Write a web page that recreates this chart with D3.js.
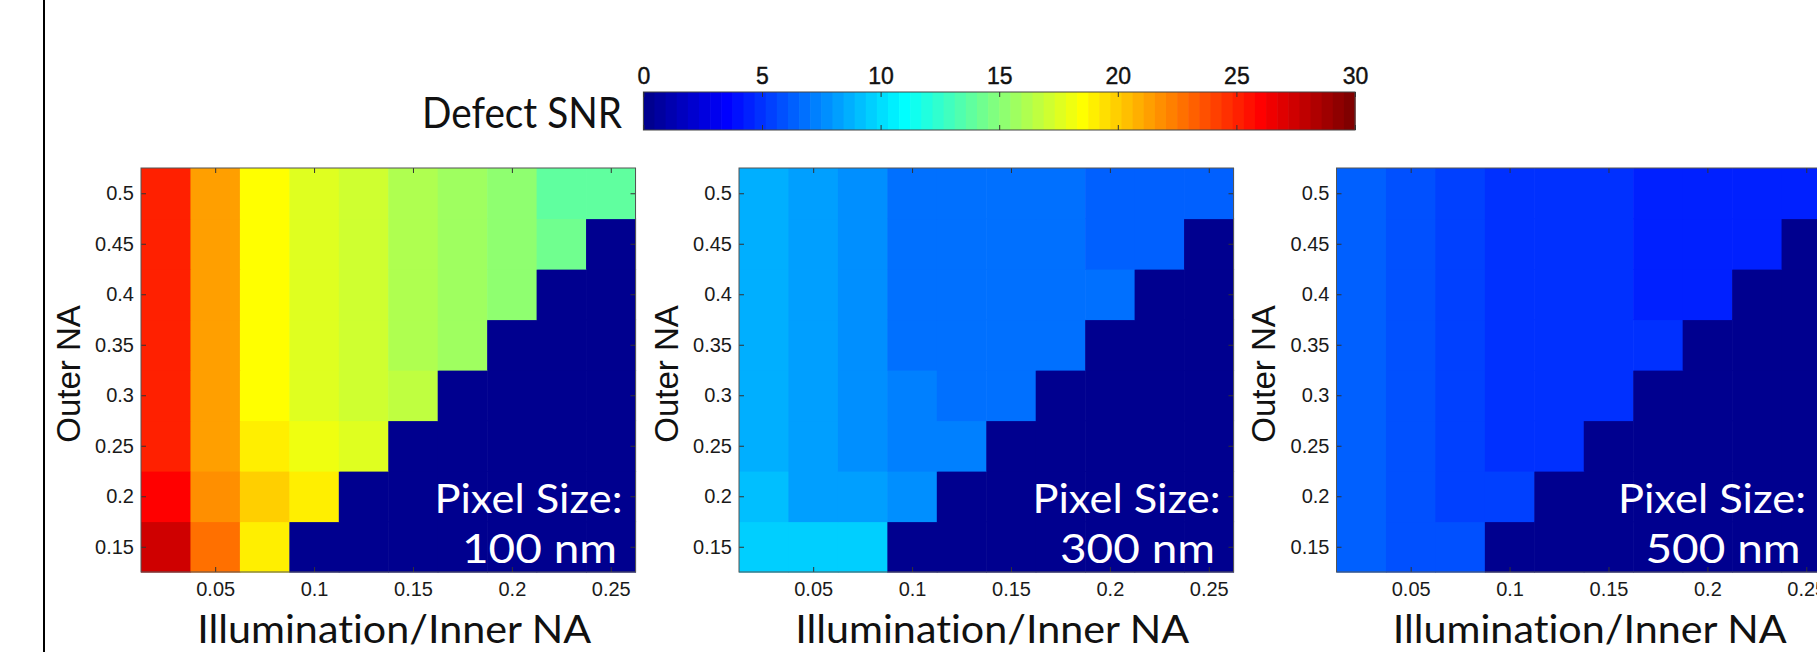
<!DOCTYPE html>
<html><head><meta charset="utf-8">
<script src="https://cdn.jsdelivr.net/npm/d3@7"></script>
<style>body{margin:0;background:#fff;overflow:hidden} text{font-variant-ligatures:none;font-feature-settings:"liga" 0,"clig" 0}</style>
</head><body>
<svg id="c" width="1817" height="652"></svg>
<script>
// ---------- data ----------
const outerNA = [0.15, 0.2, 0.25, 0.3, 0.35, 0.4, 0.45, 0.5];
const innerNA = [0.025, 0.05, 0.075, 0.1, 0.125, 0.15, 0.175, 0.2, 0.225, 0.25];
const xTickVals = [0.05, 0.1, 0.15, 0.2, 0.25];
const yTickVals = [0.15, 0.2, 0.25, 0.3, 0.35, 0.4, 0.45, 0.5];
const cbTickVals = [0, 5, 10, 15, 20, 25, 30];
const pixelLabels = ["100 nm", "300 nm", "500 nm"];
// rows follow outerNA (0.15 -> 0.5), columns follow innerNA; 0 = masked (inner too large)
const snr100 = [
  [27.3, 22.8, 18.9, 0, 0, 0, 0, 0, 0, 0],
  [25.8, 21.9, 19.7, 18.9, 0, 0, 0, 0, 0, 0],
  [25.2, 21.5, 18.9, 18.1, 17.4, 0, 0, 0, 0, 0],
  [25.0, 21.5, 18.4, 17.4, 16.9, 16.5, 0, 0, 0, 0],
  [25.0, 21.1, 18.4, 17.4, 16.9, 16.2, 15.7, 0, 0, 0],
  [25.0, 21.1, 18.4, 17.4, 16.9, 16.2, 15.7, 15.3, 0, 0],
  [25.0, 21.1, 18.4, 17.4, 16.9, 16.2, 15.7, 15.3, 14.2, 0],
  [25.0, 21.1, 18.4, 17.4, 16.9, 16.2, 15.7, 15.3, 13.8, 13.6]
];
const snr300 = [
  [9.7, 9.7, 9.7, 0, 0, 0, 0, 0, 0, 0],
  [9.0, 8.4, 8.0, 7.7, 0, 0, 0, 0, 0, 0],
  [8.8, 8.2, 7.7, 7.3, 7.3, 0, 0, 0, 0, 0],
  [8.8, 8.2, 7.7, 7.3, 7.0, 7.0, 0, 0, 0, 0],
  [8.8, 8.2, 7.7, 6.8, 6.8, 6.8, 6.8, 0, 0, 0],
  [8.8, 8.2, 7.7, 6.8, 6.8, 6.8, 6.8, 6.8, 0, 0],
  [8.8, 8.2, 7.7, 6.8, 6.8, 6.8, 6.8, 6.5, 6.5, 0],
  [8.8, 8.2, 7.7, 6.8, 6.8, 6.8, 6.8, 6.5, 6.5, 6.5]
];
const snr500 = [
  [6.1, 6.0, 5.9, 0, 0, 0, 0, 0, 0, 0],
  [6.1, 5.9, 5.4, 5.4, 0, 0, 0, 0, 0, 0],
  [6.1, 5.9, 5.4, 4.7, 5.1, 0, 0, 0, 0, 0],
  [6.1, 5.9, 5.4, 4.7, 4.7, 4.7, 0, 0, 0, 0],
  [6.1, 5.9, 5.4, 4.7, 4.7, 4.7, 5.0, 0, 0, 0],
  [6.1, 5.9, 5.4, 4.7, 4.7, 4.7, 4.3, 4.5, 0, 0],
  [6.1, 5.9, 5.4, 4.7, 4.7, 4.7, 4.3, 4.3, 4.3, 0],
  [6.1, 5.9, 5.4, 4.7, 4.7, 4.7, 4.3, 4.3, 4.3, 4.3]
];
const panelData = [snr100, snr300, snr500];

// ---------- MATLAB jet(64) colormap ----------
function jet(n) {
  const m = Math.ceil(n / 4);
  const u = [];
  for (let i = 1; i <= m; i++) u.push(i / m);
  for (let i = 1; i < m; i++) u.push(1);
  for (let i = m; i >= 1; i--) u.push(i / m);
  const gOff = Math.ceil(m / 2) - (n % 4 === 1 ? 1 : 0);
  const J = d3.range(n).map(() => [0, 0, 0]);
  u.forEach((val, k) => {
    const g = gOff + k + 1, r = g + m, b = g - m;
    if (r <= n) J[r - 1][0] = val;
    if (g <= n) J[g - 1][1] = val;
    if (b >= 1) J[b - 1][2] = val;
  });
  return J.map(c => d3.rgb(c[0] * 255, c[1] * 255, c[2] * 255).toString());
}
const cmap = jet(64);
const color = d3.scaleQuantize().domain([0, 30]).range(cmap);

// ---------- layout ----------
const svg = d3.select("#c");
const panelLeft = [141, 739, 1336.5];
const annShift = [0, 0, -12];
const plotTop = 168, W = 494.5, H = 404;
const tickFont = "'Liberation Sans', Arial, sans-serif";
const labFont = "Lato, 'Open Sans', sans-serif";

// left black rule
svg.append("line").attr("x1", 44).attr("x2", 44).attr("y1", 0).attr("y2", 652)
  .attr("stroke", "#000").attr("stroke-width", 2);

const x = d3.scaleLinear().domain([0.0125, 0.2625]).range([0, W]);
const y = d3.scaleLinear().domain([0.125, 0.525]).range([H, 0]);

panelData.forEach((data, p) => {
  const g = svg.append("g").attr("transform", `translate(${panelLeft[p]},${plotTop})`);
  const cells = [];
  data.forEach((row, ri) => row.forEach((v, ci) => cells.push({o: outerNA[ri], i: innerNA[ci], v})));
  g.selectAll("rect.cell").data(cells).join("rect").attr("class", "cell")
    .attr("x", d => x(d.i - 0.0125))
    .attr("y", d => y(d.o + 0.025))
    .attr("width", d => x(d.i + 0.0125) - x(d.i - 0.0125) + 0.6)
    .attr("height", d => y(d.o - 0.025) - y(d.o + 0.025) + 0.6)
    .attr("fill", d => color(d.v));

  // axes (inward ticks)
  const ax = g.append("g").attr("transform", `translate(0,${H})`)
    .call(d3.axisBottom(x).tickValues(xTickVals).tickSizeInner(-5).tickSizeOuter(0).tickPadding(10).tickFormat(d => String(d)));
  const axT = g.append("g").call(d3.axisTop(x).tickValues(xTickVals).tickSizeInner(-5).tickSizeOuter(0).tickFormat(""));
  const ay = g.append("g")
    .call(d3.axisLeft(y).tickValues(yTickVals).tickSizeInner(-5).tickSizeOuter(0).tickPadding(7).tickFormat(d => String(d)));
  const ayR = g.append("g").attr("transform", `translate(${W},0)`)
    .call(d3.axisRight(y).tickValues(yTickVals).tickSizeInner(-5).tickSizeOuter(0).tickFormat(""));
  [ax, axT, ay, ayR].forEach(a => {
    a.select(".domain").remove();
    a.selectAll("line").attr("stroke", "#333");
    a.selectAll("text").attr("font-family", tickFont).attr("font-size", 20).attr("fill", "#1a1a1a");
  });

  g.append("rect").attr("width", W).attr("height", H).attr("fill", "none")
    .attr("stroke", "#555").attr("stroke-width", 1);

  // axis titles
  g.append("text").attr("transform", `translate(-73,${H / 2 + 4}) rotate(-90)`)
    .attr("text-anchor", "middle").attr("dominant-baseline", "central")
    .attr("font-family", tickFont).attr("font-size", 33).attr("fill", "#111").text("Outer NA");
  g.append("text").attr("x", W / 2 + 6).attr("y", 643 - plotTop)
    .attr("text-anchor", "middle").attr("font-family", labFont).attr("font-size", 38)
    .attr("textLength", 394).attr("lengthAdjust", "spacingAndGlyphs")
    .attr("fill", "#111").text("Illumination/Inner NA");

  // pixel size annotation
  g.append("text").attr("x", W - 13 + annShift[p]).attr("y", 513 - plotTop)
    .attr("text-anchor", "end").attr("font-family", labFont).attr("font-size", 40)
    .attr("textLength", 188).attr("lengthAdjust", "spacingAndGlyphs")
    .attr("fill", "#fff").text("Pixel Size:");
  g.append("text").attr("x", W - 96 + annShift[p]).attr("y", 563 - plotTop)
    .attr("text-anchor", "middle").attr("font-family", labFont).attr("font-size", 40)
    .attr("textLength", 155).attr("lengthAdjust", "spacingAndGlyphs")
    .attr("fill", "#fff").text(pixelLabels[p]);
});

// ---------- colorbar ----------
const cbL = 643.4, cbR = 1355, cbT = 92, cbB = 130;
const cbx = d3.scaleLinear().domain([0, 30]).range([cbL, cbR]);
const cb = svg.append("g");
cb.selectAll("rect.band").data(cmap).join("rect").attr("class", "band")
  .attr("x", (c, i) => cbx(i * 30 / 64))
  .attr("width", cbx(30 / 64) - cbx(0) + 0.6)
  .attr("y", cbT).attr("height", cbB - cbT).attr("fill", c => c);
cb.append("rect").attr("x", cbL).attr("y", cbT).attr("width", cbR - cbL).attr("height", cbB - cbT)
  .attr("fill", "none").attr("stroke", "#444").attr("stroke-width", 1);
const cbAxisTop = cb.append("g").attr("transform", `translate(0,${cbT})`)
  .call(d3.axisTop(cbx).tickValues(cbTickVals).tickSizeInner(-5).tickSizeOuter(0).tickPadding(8).tickFormat(d => String(d)));
const cbAxisBot = cb.append("g").attr("transform", `translate(0,${cbB})`)
  .call(d3.axisBottom(cbx).tickValues(cbTickVals).tickSizeInner(-5).tickSizeOuter(0).tickFormat(""));
[cbAxisTop, cbAxisBot].forEach(a => {
  a.select(".domain").remove();
  a.selectAll("line").attr("stroke", "#333");
  a.selectAll("text").attr("font-family", tickFont).attr("font-size", 23).attr("fill", "#111")
    .attr("stroke", "#111").attr("stroke-width", 0.4);
});
svg.append("text").attr("x", 622).attr("y", 128).attr("text-anchor", "end")
  .attr("font-family", labFont).attr("font-size", 43)
  .attr("textLength", 200).attr("lengthAdjust", "spacingAndGlyphs")
  .attr("fill", "#111").text("Defect SNR");
</script>
</body></html>
